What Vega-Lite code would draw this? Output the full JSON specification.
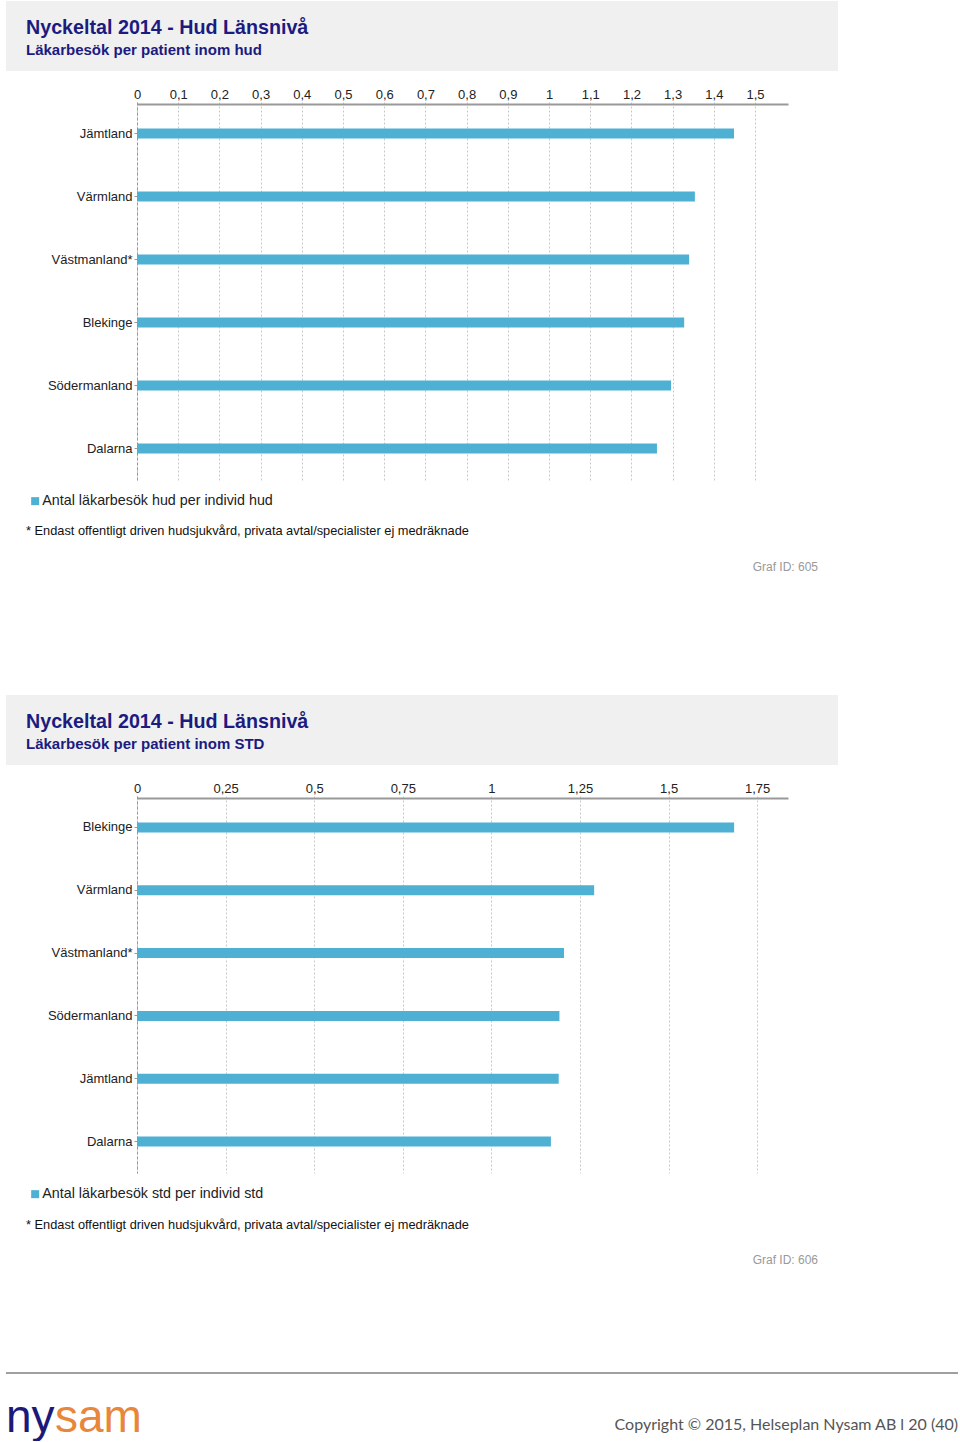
{
  "$schema": "https://vega.github.io/schema/vega-lite/v6.json",
  "padding": {"left": 6, "top": 1, "right": 0, "bottom": 0},
  "background": "white",
  "spacing": 17,
  "resolve": {"scale": {"color": "independent"}, "legend": {"color": "independent"}},
  "config": {
    "view": {"stroke": null},
    "font": "Liberation Sans",
    "locale": {"number": {"decimal": ",", "thousands": " ", "grouping": [3], "currency": ["", " kr"]}},
    "axis": {"labelFont": "Liberation Sans", "labelFontSize": 13, "labelColor": "#222", "title": null},
    "legend": {"labelFont": "Liberation Sans"},
    "title": {"font": "Liberation Sans", "subtitleFont": "Liberation Sans"}
  },
  "datasets": {
    "hud": [
      {"lan": "Jämtland", "value": 1.449, "serie": "Antal läkarbesök hud per individ hud"},
      {"lan": "Värmland", "value": 1.354, "serie": "Antal läkarbesök hud per individ hud"},
      {"lan": "Västmanland*", "value": 1.340, "serie": "Antal läkarbesök hud per individ hud"},
      {"lan": "Blekinge", "value": 1.328, "serie": "Antal läkarbesök hud per individ hud"},
      {"lan": "Södermanland", "value": 1.296, "serie": "Antal läkarbesök hud per individ hud"},
      {"lan": "Dalarna", "value": 1.262, "serie": "Antal läkarbesök hud per individ hud"}
    ],
    "std": [
      {"lan": "Blekinge", "value": 1.685, "serie": "Antal läkarbesök std per individ std"},
      {"lan": "Värmland", "value": 1.290, "serie": "Antal läkarbesök std per individ std"},
      {"lan": "Västmanland*", "value": 1.205, "serie": "Antal läkarbesök std per individ std"},
      {"lan": "Södermanland", "value": 1.192, "serie": "Antal läkarbesök std per individ std"},
      {"lan": "Jämtland", "value": 1.190, "serie": "Antal läkarbesök std per individ std"},
      {"lan": "Dalarna", "value": 1.168, "serie": "Antal läkarbesök std per individ std"}
    ],
    "empty": [{"t": ""}],
    "logo": [
      {"part": "ny", "t": "ny"},
      {"part": "sam", "t": "sam"}
    ]
  },
  "vconcat": [
    {
      "width": 832, "height": 70,
      "view": {"fill": "#f0f0f0", "stroke": null},
      "data": {"name": "empty"},
      "mark": {"type": "text"},
      "encoding": {"text": {"field": "t"}},
      "title": {
        "text": "Nyckeltal 2014 - Hud Länsnivå",
        "subtitle": "Läkarbesök per patient inom hud",
        "anchor": "start", "frame": "group", "orient": "top", "offset": -57, "dx": 20,
        "fontSize": 19.7, "fontWeight": "bold", "color": "#1b1b80",
        "subtitleFontSize": 15, "subtitleFontWeight": "bold", "subtitleColor": "#1b1b80", "subtitlePadding": 5
      }
    },
    {
      "width": 832, "height": 378,
      "data": {"name": "hud"},
      "mark": {"type": "bar", "size": 10},
      "encoding": {
        "y": {
          "field": "lan", "type": "nominal", "sort": null,
          "scale": {"paddingInner": 0, "paddingOuter": 0},
          "axis": {"orient": "left", "offset": -131, "domainColor": "#999", "domainDash": [3, 2], "tickColor": "#999", "tickSize": 3, "labelPadding": 2}
        },
        "x": {
          "field": "value", "type": "quantitative",
          "scale": {"domain": [0, 1.58], "range": [131, 782], "nice": false},
          "axis": {
            "orient": "top", "offset": -2, "values": [0, 0.1, 0.2, 0.3, 0.4, 0.5, 0.6, 0.7, 0.8, 0.9, 1, 1.1, 1.2, 1.3, 1.4, 1.5],
            "format": ".2~f", "grid": true, "gridDash": [2, 2], "gridColor": "#c8c8c8",
            "domainColor": "#999", "domainWidth": 2, "ticks": false, "tickSize": 0, "labelPadding": 3, "labelFlush": false
          }
        },
        "color": {
          "field": "serie", "type": "nominal", "scale": {"range": ["#4eb1d3"]},
          "legend": {"title": null, "orient": "none", "legendX": 22, "legendY": 392, "symbolType": "square", "symbolSize": 64, "symbolStrokeWidth": 0, "labelFontSize": 14.3, "labelColor": "#222", "labelLimit": 0, "padding": 0, "labelOffset": 0}
        }
      },
      "title": {
        "text": "* Endast offentligt driven hudsjukvård, privata avtal/specialister ej medräknade",
        "orient": "bottom", "anchor": "start", "frame": "group", "dx": 20, "offset": 16,
        "fontSize": 12.8, "fontWeight": "normal", "color": "#111"
      }
    },
    {
      "width": 832, "height": 123,
      "data": {"name": "empty"},
      "mark": {"type": "text"},
      "encoding": {"text": {"field": "t"}},
      "title": {"text": "Graf ID: 605", "anchor": "end", "frame": "group", "orient": "top", "dx": -20, "offset": -19, "fontSize": 12, "fontWeight": "normal", "color": "#999"}
    },
    {
      "width": 832, "height": 70,
      "view": {"fill": "#f0f0f0", "stroke": null},
      "data": {"name": "empty"},
      "mark": {"type": "text"},
      "encoding": {"text": {"field": "t"}},
      "title": {
        "text": "Nyckeltal 2014 - Hud Länsnivå",
        "subtitle": "Läkarbesök per patient inom STD",
        "anchor": "start", "frame": "group", "orient": "top", "offset": -57, "dx": 20,
        "fontSize": 19.7, "fontWeight": "bold", "color": "#1b1b80",
        "subtitleFontSize": 15, "subtitleFontWeight": "bold", "subtitleColor": "#1b1b80", "subtitlePadding": 5
      }
    },
    {
      "width": 832, "height": 377,
      "data": {"name": "std"},
      "mark": {"type": "bar", "size": 10},
      "encoding": {
        "y": {
          "field": "lan", "type": "nominal", "sort": null,
          "scale": {"paddingInner": 0, "paddingOuter": 0},
          "axis": {"orient": "left", "offset": -131, "domainColor": "#999", "domainDash": [3, 2], "tickColor": "#999", "tickSize": 3, "labelPadding": 2}
        },
        "x": {
          "field": "value", "type": "quantitative",
          "scale": {"domain": [0, 1.837], "range": [131, 782], "nice": false},
          "axis": {
            "orient": "top", "offset": -2, "values": [0, 0.25, 0.5, 0.75, 1, 1.25, 1.5, 1.75],
            "format": ".2~f", "grid": true, "gridDash": [2, 2], "gridColor": "#c8c8c8",
            "domainColor": "#999", "domainWidth": 2, "ticks": false, "tickSize": 0, "labelPadding": 3, "labelFlush": false
          }
        },
        "color": {
          "field": "serie", "type": "nominal", "scale": {"range": ["#4eb1d3"]},
          "legend": {"title": null, "orient": "none", "legendX": 22, "legendY": 391, "symbolType": "square", "symbolSize": 64, "symbolStrokeWidth": 0, "labelFontSize": 14.3, "labelColor": "#222", "labelLimit": 0, "padding": 0, "labelOffset": 0}
        }
      },
      "title": {
        "text": "* Endast offentligt driven hudsjukvård, privata avtal/specialister ej medräknade",
        "orient": "bottom", "anchor": "start", "frame": "group", "dx": 20, "offset": 17,
        "fontSize": 12.8, "fontWeight": "normal", "color": "#111"
      }
    },
    {
      "width": 832, "height": 101,
      "data": {"name": "empty"},
      "mark": {"type": "text"},
      "encoding": {"text": {"field": "t"}},
      "title": {"text": "Graf ID: 606", "anchor": "end", "frame": "group", "orient": "top", "dx": -20, "offset": -18, "fontSize": 12, "fontWeight": "normal", "color": "#999"}
    },
    {
      "width": 952, "height": 2,
      "view": {"fill": "#a0a0a0", "stroke": null},
      "data": {"name": "empty"},
      "mark": {"type": "text"},
      "encoding": {"text": {"field": "t"}}
    },
    {
      "width": 952, "height": 34,
      "data": {"name": "logo"},
      "mark": {"type": "text", "align": "left", "baseline": "middle", "fontSize": 46, "font": "Liberation Sans"},
      "encoding": {
        "x": {"field": "part", "type": "nominal", "scale": {"type": "point", "domain": ["ny", "sam"], "range": [0, 49], "padding": 0}, "axis": null},
        "text": {"field": "t"},
        "color": {"field": "part", "type": "nominal", "scale": {"domain": ["ny", "sam"], "range": ["#1b1a7a", "#e8873a"]}, "legend": null}
      },
      "title": {"text": "Copyright © 2015, Helseplan Nysam AB  l  20 (40)", "anchor": "end", "frame": "group", "orient": "bottom", "offset": -24, "fontSize": 16, "fontWeight": "normal", "color": "#555", "font": "Lato"}
    }
  ]
}
